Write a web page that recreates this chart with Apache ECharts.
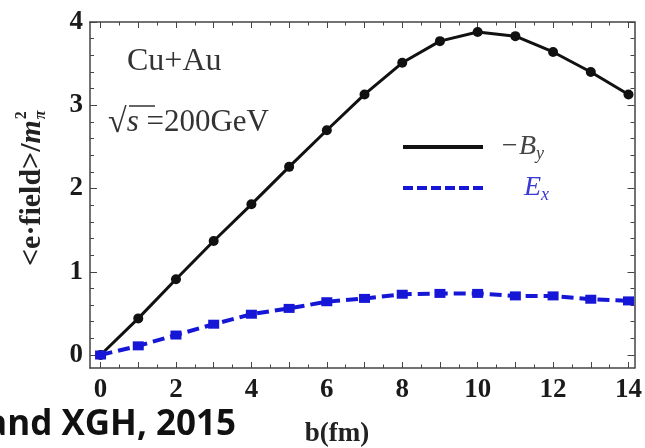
<!DOCTYPE html>
<html>
<head>
<meta charset="utf-8">
<script src="https://cdn.jsdelivr.net/npm/echarts@6/dist/echarts.min.js"></script>
<style>html,body{margin:0;padding:0;background:#fff;}#c{width:645px;height:448px;}</style>
</head>
<body>
<div id="c"></div>
<script>
// impact parameter b (fm)
const bValues = [0,1,2,3,4,5,6,7,8,9,10,11,12,13,14];
// -B_y  (in m_pi^2)
const negBy = [0,0.44,0.91,1.37,1.81,2.26,2.70,3.13,3.51,3.77,3.88,3.83,3.64,3.40,3.13];
// E_x  (in m_pi^2)
const ex = [0,0.11,0.24,0.37,0.49,0.56,0.64,0.68,0.73,0.74,0.74,0.71,0.71,0.67,0.65];
// tick labels / tick positions
const xLabelTicks = [0,2,4,6,8,10,12,14];
const xMajorTicks = [0,1,2,3,4,5,6,7,8,9,10,11,12,13,14];
const xMinorTicks = [0.5,1.5,2.5,3.5,4.5,5.5,6.5,7.5,8.5,9.5,10.5,11.5,12.5,13.5];
const yLabelTicks = [0,1,2,3,4];
const yMinorTicks = [0.2,0.4,0.6,0.8,1.2,1.4,1.6,1.8,2.2,2.4,2.6,2.8,3.2,3.4,3.6,3.8];

const XMIN = -0.28, XMAX = 14.16, YMIN = -0.156, YMAX = 4;
const serif = 'Liberation Serif';
const axisCol = '#444';
const blue = '#1616d6';

function xAx(pos, ticks, len, labels, line) {
  return {
    type: 'value', position: pos, min: XMIN, max: XMAX,
    axisLine: {show: line, onZero: false, lineStyle: {color: axisCol, width: 1.5}},
    axisTick: {show: true, inside: true, length: len, customValues: ticks, lineStyle: {color: axisCol, width: 1}},
    axisLabel: labels ? {show: true, customValues: xLabelTicks, fontFamily: serif, fontWeight: 'bold', fontSize: 27, color: '#1a1a1a', margin: 9} : {show: false},
    splitLine: {show: false}
  };
}
function yAx(pos, ticks, len, labels, line) {
  return {
    type: 'value', position: pos, min: YMIN, max: YMAX,
    axisLine: {show: line, onZero: false, lineStyle: {color: axisCol, width: 1.5}},
    axisTick: {show: true, inside: true, length: len, customValues: ticks, lineStyle: {color: axisCol, width: 1}},
    axisLabel: labels ? {show: true, customValues: yLabelTicks, fontFamily: serif, fontWeight: 'bold', fontSize: 27, color: '#1a1a1a', margin: 7} : {show: false},
    splitLine: {show: false}
  };
}

// measure y-title main part to place the stacked sub/superscript after it
const yTitleMain = 'bold 30px "Liberation Serif"';
const yTitleM = 'bold italic 30px "Liberation Serif"';
const mctx = document.createElement('canvas').getContext('2d');
mctx.font = yTitleMain; const w1 = mctx.measureText('<e·field>/').width;
mctx.font = yTitleM; const w2 = mctx.measureText('m').width;
const yTitleW = w1 + w2;

const chart = echarts.init(document.getElementById('c'), null, {renderer: 'canvas'});
chart.setOption({
  animation: false,
  backgroundColor: '#fff',
  grid: {left: 90, right: 3, top: 22, bottom: 80},
  xAxis: [
    xAx('bottom', xMajorTicks, 6, true, true),
    xAx('bottom', xMinorTicks, 3.5, false, false),
    xAx('top', xMajorTicks, 6, false, true),
    xAx('top', xMinorTicks, 3.5, false, false)
  ],
  yAxis: [
    yAx('left', yLabelTicks, 7, true, true),
    yAx('left', yMinorTicks, 4, false, false),
    yAx('right', yLabelTicks, 7, false, true),
    yAx('right', yMinorTicks, 4, false, false)
  ],
  series: [
    {
      name: '-By', type: 'line', xAxisIndex: 0, yAxisIndex: 0,
      data: bValues.map((b, i) => [b, negBy[i]]),
      symbol: 'circle', symbolSize: 10,
      itemStyle: {color: '#111'},
      lineStyle: {color: '#111', width: 3}
    },
    {
      name: 'Ex', type: 'line', xAxisIndex: 0, yAxisIndex: 0,
      data: bValues.map((b, i) => [b, ex[i]]),
      symbol: 'rect', symbolSize: [11, 9],
      itemStyle: {color: blue},
      lineStyle: {color: blue, width: 4, type: [12, 6]}
    }
  ],
  graphic: [
    {type: 'text', left: 127, top: 46, style: {text: 'Cu+Au', font: '32px "Liberation Serif"', fill: '#333'}},
    {type: 'text', x: 108, y: 123, style: {
      text: '{a|√}{b|s}{c| =200GeV}', textVerticalAlign: 'middle',
      rich: {
        a: {font: '34px "Liberation Serif"', fill: '#333'},
        b: {font: 'italic 31px "Liberation Serif"', fill: '#333'},
        c: {font: '31px "Liberation Serif"', fill: '#333'}
      }
    }},
    {type: 'line', shape: {x1: 129, y1: 106, x2: 155, y2: 106}, style: {stroke: '#333', lineWidth: 1.5}},
    // legend
    {type: 'line', shape: {x1: 403, y1: 147, x2: 483, y2: 147}, style: {stroke: '#111', lineWidth: 4}},
    {type: 'text', x: 500, y: 147, style: {
      text: '{a|−B}{s|y}', textVerticalAlign: 'middle',
      rich: {
        a: {font: 'italic 28px "Liberation Serif"', fill: '#444'},
        s: {font: 'italic 18px "Liberation Serif"', fill: '#444', padding: [14, 0, 0, 0]}
      }
    }},
    {type: 'line', shape: {x1: 403, y1: 188, x2: 483, y2: 188}, style: {stroke: blue, lineWidth: 4, lineDash: [10, 4]}},
    {type: 'text', x: 524, y: 188, style: {
      text: '{a|E}{s|x}', textVerticalAlign: 'middle',
      rich: {
        a: {font: 'italic 28px "Liberation Serif"', fill: '#3a3ad0'},
        s: {font: 'italic 18px "Liberation Serif"', fill: '#3a3ad0', padding: [14, 0, 0, 0]}
      }
    }},
    // axis titles
    {type: 'text', x: 337, y: 434, style: {text: 'b(fm)', font: 'bold 27px "Liberation Serif"', fill: '#222', textAlign: 'center', textVerticalAlign: 'middle'}},
    {type: 'group', x: 32, y: 266, rotation: Math.PI / 2, children: [
      {type: 'text', x: 0, y: 0, style: {
        text: '{a|<e·field>/}{m|m}', textVerticalAlign: 'middle', textAlign: 'left',
        rich: {
          a: {font: yTitleMain, fill: '#222'},
          m: {font: yTitleM, fill: '#222'}
        }
      }},
      {type: 'text', x: yTitleW + 1, y: -10, style: {text: '2', font: 'bold 16px "Liberation Serif"', fill: '#222', textVerticalAlign: 'middle'}},
      {type: 'text', x: yTitleW + 1, y: 9, style: {text: 'π', font: 'bold italic 16px "Liberation Serif"', fill: '#222', textVerticalAlign: 'middle'}}
    ]},
    {type: 'text', x: 236, y: 425, style: {text: 'and XGH, 2015', font: 'bold 35px "Open Sans"', fill: '#111', textAlign: 'right', textVerticalAlign: 'middle'}}
  ]
});
</script>
</body>
</html>
